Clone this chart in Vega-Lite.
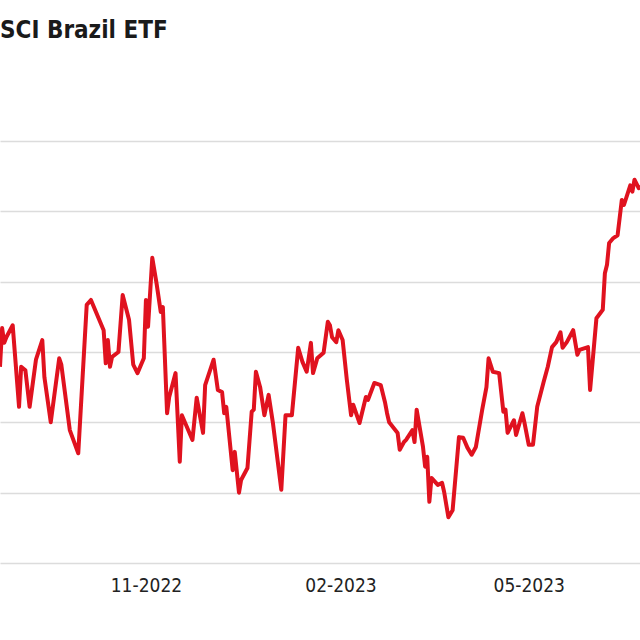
{
"$schema": "https://vega.github.io/schema/vega-lite/v6.json",
"width": 640, "height": 422,
"autosize": {"type": "none"},
"padding": {"left": 0, "top": 141, "right": 0, "bottom": 77},
"background": "white",
"title": {"text": "SCI Brazil ETF", "anchor": "start", "frame": "group", "font": "DejaVu Sans Condensed", "fontSize": 24, "fontWeight": "bold", "color": "#1a1a1a", "baseline": "alphabetic", "offset": 79},
"data": {"values": [
{"date":"2022-08-24","v":26.79},{"date":"2022-08-25","v":27.34},{"date":"2022-08-26","v":27.13},{"date":"2022-08-27","v":27.21},{"date":"2022-08-30","v":27.38},
{"date":"2022-09-02","v":26.22},{"date":"2022-09-03","v":26.79},{"date":"2022-09-05","v":26.74},{"date":"2022-09-07","v":26.22},{"date":"2022-09-10","v":26.89},
{"date":"2022-09-13","v":27.17},{"date":"2022-09-14","v":26.64},{"date":"2022-09-17","v":26.00},{"date":"2022-09-21","v":26.91},{"date":"2022-09-22","v":26.82},
{"date":"2022-09-26","v":25.89},{"date":"2022-09-30","v":25.56},{"date":"2022-10-04","v":27.67},{"date":"2022-10-06","v":27.74},{"date":"2022-10-12","v":27.31},
{"date":"2022-10-13","v":26.84},{"date":"2022-10-14","v":27.17},{"date":"2022-10-15","v":26.79},{"date":"2022-10-16","v":26.93},{"date":"2022-10-19","v":27.00},
{"date":"2022-10-21","v":27.81},{"date":"2022-10-24","v":27.46},{"date":"2022-10-26","v":26.82},{"date":"2022-10-28","v":26.70},{"date":"2022-10-31","v":26.91},
{"date":"2022-11-01","v":27.74},{"date":"2022-11-02","v":27.36},{"date":"2022-11-04","v":28.34},{"date":"2022-11-06","v":27.98},{"date":"2022-11-08","v":27.57},
{"date":"2022-11-09","v":27.64},{"date":"2022-11-11","v":26.13},{"date":"2022-11-12","v":26.36},{"date":"2022-11-15","v":26.70},{"date":"2022-11-17","v":25.44},
{"date":"2022-11-18","v":26.10},{"date":"2022-11-23","v":25.75},{"date":"2022-11-25","v":26.35},{"date":"2022-11-28","v":25.85},{"date":"2022-11-29","v":26.53},
{"date":"2022-12-03","v":26.89},{"date":"2022-12-05","v":26.46},{"date":"2022-12-07","v":26.43},{"date":"2022-12-08","v":26.13},{"date":"2022-12-09","v":26.22},
{"date":"2022-12-12","v":25.32},{"date":"2022-12-13","v":25.58},{"date":"2022-12-15","v":25.00},{"date":"2022-12-16","v":25.18},{"date":"2022-12-19","v":25.35},
{"date":"2022-12-21","v":26.15},{"date":"2022-12-22","v":26.18},{"date":"2022-12-23","v":26.72},{"date":"2022-12-25","v":26.50},{"date":"2022-12-27","v":26.10},
{"date":"2022-12-29","v":26.39},{"date":"2022-12-31","v":26.00},{"date":"2023-01-04","v":25.04},{"date":"2023-01-06","v":26.10},{"date":"2023-01-09","v":26.10},
{"date":"2023-01-12","v":27.06},{"date":"2023-01-14","v":26.86},{"date":"2023-01-16","v":26.72},{"date":"2023-01-18","v":27.13},{"date":"2023-01-19","v":26.70},
{"date":"2023-01-21","v":26.91},{"date":"2023-01-24","v":26.99},{"date":"2023-01-26","v":27.43},{"date":"2023-01-27","v":27.38},{"date":"2023-01-28","v":27.21},
{"date":"2023-01-30","v":27.14},{"date":"2023-01-31","v":27.31},{"date":"2023-02-02","v":27.17},{"date":"2023-02-04","v":26.60},{"date":"2023-02-06","v":26.10},
{"date":"2023-02-07","v":26.25},{"date":"2023-02-10","v":25.99},{"date":"2023-02-13","v":26.36},{"date":"2023-02-14","v":26.32},{"date":"2023-02-17","v":26.56},
{"date":"2023-02-20","v":26.53},{"date":"2023-02-22","v":26.29},{"date":"2023-02-23","v":26.13},{"date":"2023-02-24","v":26.00},{"date":"2023-02-28","v":25.85},
{"date":"2023-03-01","v":25.61},{"date":"2023-03-03","v":25.72},{"date":"2023-03-04","v":25.75},{"date":"2023-03-07","v":25.89},{"date":"2023-03-08","v":25.72},
{"date":"2023-03-09","v":26.18},{"date":"2023-03-12","v":25.65},{"date":"2023-03-13","v":25.37},{"date":"2023-03-14","v":25.51},{"date":"2023-03-15","v":24.87},
{"date":"2023-03-16","v":25.21},{"date":"2023-03-19","v":25.11},{"date":"2023-03-21","v":25.14},{"date":"2023-03-22","v":25.01},{"date":"2023-03-24","v":24.65},
{"date":"2023-03-26","v":24.75},{"date":"2023-03-29","v":25.79},{"date":"2023-03-31","v":25.78},{"date":"2023-04-02","v":25.64},{"date":"2023-04-04","v":25.54},
{"date":"2023-04-06","v":25.65},{"date":"2023-04-09","v":26.18},{"date":"2023-04-11","v":26.50},{"date":"2023-04-12","v":26.91},{"date":"2023-04-14","v":26.72},
{"date":"2023-04-17","v":26.70},{"date":"2023-04-19","v":26.15},{"date":"2023-04-20","v":26.18},{"date":"2023-04-21","v":25.85},{"date":"2023-04-24","v":26.03},
{"date":"2023-04-25","v":25.82},{"date":"2023-04-28","v":26.13},{"date":"2023-04-29","v":25.99},{"date":"2023-05-01","v":25.68},{"date":"2023-05-03","v":25.68},
{"date":"2023-05-05","v":26.22},{"date":"2023-05-08","v":26.57},{"date":"2023-05-10","v":26.79},{"date":"2023-05-12","v":27.07},{"date":"2023-05-14","v":27.14},
{"date":"2023-05-16","v":27.28},{"date":"2023-05-17","v":27.06},{"date":"2023-05-19","v":27.14},{"date":"2023-05-22","v":27.31},{"date":"2023-05-24","v":26.96},
{"date":"2023-05-25","v":27.03},{"date":"2023-05-29","v":27.07},{"date":"2023-05-30","v":26.46},{"date":"2023-06-02","v":27.48},{"date":"2023-06-05","v":27.60},
{"date":"2023-06-06","v":28.12},{"date":"2023-06-07","v":28.24},{"date":"2023-06-08","v":28.55},{"date":"2023-06-10","v":28.62},{"date":"2023-06-12","v":28.66},
{"date":"2023-06-14","v":29.16},{"date":"2023-06-15","v":29.09},{"date":"2023-06-18","v":29.37},{"date":"2023-06-19","v":29.28},{"date":"2023-06-20","v":29.45},
{"date":"2023-06-22","v":29.33},{"date":"2023-06-23","v":29.35}
]},
"mark": {"type": "line", "color": "#e0121f", "strokeWidth": 4, "clip": true, "strokeJoin": "round"},
"encoding": {
"x": {"field": "date", "type": "temporal", "title": null,
 "scale": {"type": "utc", "domain": [1661299200000, 1687443840000]},
 "axis": {"values": [1667260800000, 1675209600000, 1682899200000], "labelExpr": "utcFormat(datum.value, '%m-%Y')", "grid": false, "domain": false, "ticks": false, "labelFont": "DejaVu Sans Condensed", "labelFontSize": 19, "labelColor": "#222222", "labelPadding": 13, "labelFlush": false, "labelOverlap": false}},
"y": {"field": "v", "type": "quantitative", "title": null,
 "scale": {"domain": [24, 30], "zero": false, "nice": false},
 "axis": {"values": [24, 25, 26, 27, 28, 29, 30], "labels": false, "ticks": false, "domain": false, "grid": true, "gridColor": "#dcdcdc", "gridWidth": 1.5}}
},
"config": {"view": {"stroke": null}}
}
